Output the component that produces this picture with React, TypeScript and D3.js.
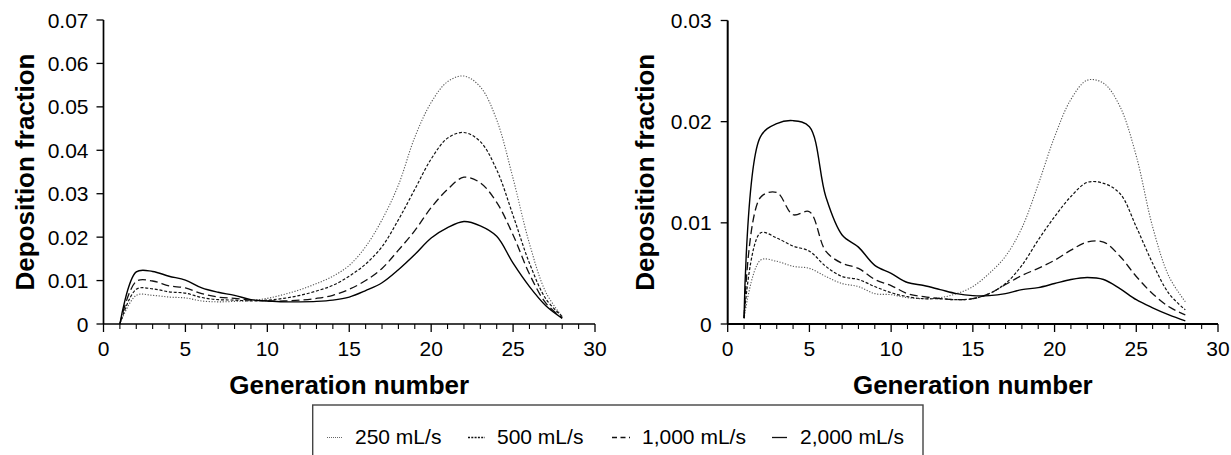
import React from "react";
import * as d3 from "d3";

const generations = [1,2,3,4,5,6,7,8,9,10,11,12,13,14,15,16,17,18,19,20,21,22,23,24,25,26,27,28];

// Left panel (deposition fraction)
const left250 = [0,0.0066,0.0066,0.0062,0.0060,0.0053,0.0051,0.0052,0.0054,0.0059,0.0068,0.0079,0.0093,0.0110,0.0135,0.0178,0.0240,0.0320,0.0430,0.0510,0.0558,0.0571,0.0546,0.0470,0.0335,0.0185,0.0073,0.0017];
const left500 = [0,0.0080,0.0081,0.0074,0.0071,0.0061,0.0056,0.0055,0.0053,0.0055,0.0059,0.0066,0.0076,0.0089,0.0110,0.0138,0.0178,0.0240,0.0310,0.0380,0.0428,0.0441,0.0420,0.0355,0.0250,0.0140,0.0058,0.0017];
const left1000 = [0,0.0098,0.0099,0.0088,0.0083,0.0070,0.0062,0.0059,0.0055,0.0053,0.0053,0.0055,0.0059,0.0066,0.0080,0.0100,0.0128,0.0170,0.0215,0.0268,0.0310,0.0338,0.0325,0.0280,0.0205,0.0115,0.0048,0.0014];
const left2000 = [0,0.0120,0.0121,0.0110,0.0101,0.0083,0.0073,0.0066,0.0056,0.0053,0.0051,0.0051,0.0052,0.0055,0.0062,0.0077,0.0095,0.0125,0.0160,0.0198,0.0222,0.0236,0.0226,0.0202,0.0140,0.0086,0.0042,0.0013];

// Right panel
const right250 = [0.0005,0.0063,0.0062,0.0057,0.0055,0.0047,0.0040,0.0037,0.0030,0.0029,0.0026,0.0025,0.0026,0.0030,0.0037,0.0050,0.0067,0.0095,0.0138,0.0185,0.0222,0.0241,0.0238,0.0215,0.0166,0.0096,0.0047,0.0022];
const right500 = [0.0006,0.0090,0.0085,0.0077,0.0072,0.0057,0.0047,0.0044,0.0037,0.0031,0.0027,0.0025,0.0025,0.0024,0.0025,0.0030,0.0040,0.0058,0.0083,0.0106,0.0126,0.0140,0.0139,0.0129,0.0096,0.0060,0.0030,0.0014];
const right1000 = [0.0006,0.0125,0.0130,0.0108,0.0111,0.0072,0.0060,0.0055,0.0044,0.0038,0.0030,0.0027,0.0025,0.0024,0.0025,0.0030,0.0039,0.0048,0.0055,0.0063,0.0073,0.0081,0.0081,0.0067,0.0047,0.0030,0.0017,0.0009];
const right2000 = [0.0006,0.0185,0.0198,0.0201,0.0195,0.0126,0.0088,0.0076,0.0058,0.0050,0.0041,0.0038,0.0034,0.0030,0.0028,0.0028,0.0030,0.0034,0.0036,0.0040,0.0044,0.0046,0.0044,0.0035,0.0024,0.0016,0.0009,0.0003];

const seriesLabels = ["250 mL/s", "500 mL/s", "1,000 mL/s", "2,000 mL/s"];
const leftTicksY = [0, 0.01, 0.02, 0.03, 0.04, 0.05, 0.06, 0.07];
const rightTicksY = [0, 0.01, 0.02, 0.03];
const xMajorTicks = [0, 5, 10, 15, 20, 25, 30];
const xMinorTicks = [1,2,3,4,6,7,8,9,11,12,13,14,16,17,18,19,21,22,23,24,26,27,28,29];

const FONT = "'Liberation Sans', Arial, Helvetica, sans-serif";
const styles = [
  { dash: "1.2,1.6", width: 1.1, color: "#555" },
  { dash: "3,1.8", width: 1.2, color: "#111" },
  { dash: "8,4", width: 1.3, color: "#111" },
  { dash: "none", width: 1.4, color: "#000" },
];

type PanelProps = {
  xLeft: number; xRight: number; yTop: number; yBottom: number;
  yMax: number; yTicks: number[]; data: number[][]; axisW: number;
  titleX: number; labelOffset: number;
};

function Panel(p: PanelProps) {
  const x = d3.scaleLinear().domain([0, 30]).range([p.xLeft, p.xRight]);
  const y = d3.scaleLinear().domain([0, p.yMax]).range([p.yBottom, p.yTop]);
  const line = d3.line<number>()
    .x((_, i) => x(generations[i]))
    .y((d) => y(d))
    .curve(d3.curveCatmullRom.alpha(0.5));
  const fmt = (d: number) => (d === 0 ? "0" : d3.format(".2f")(d));
  const cx = (p.xLeft + p.xRight) / 2;
  const cy = (p.yTop + p.yBottom) / 2;
  return (
    <g>
      {p.data.map((s, i) => (
        <path key={i} d={line(s) || ""} fill="none" stroke={styles[i].color}
          strokeWidth={styles[i].width} strokeDasharray={styles[i].dash} />
      ))}
      <line x1={p.xLeft} x2={p.xLeft} y1={p.yTop} y2={p.yBottom} stroke="#000" strokeWidth={p.axisW} />
      <line x1={p.xLeft} x2={p.xRight} y1={p.yBottom} y2={p.yBottom} stroke="#000" strokeWidth={p.axisW} />
      {p.yTicks.map((t) => (
        <g key={"y" + t}>
          <line x1={p.xLeft - 7} x2={p.xLeft} y1={y(t)} y2={y(t)} stroke="#000" strokeWidth={1.3} />
          <text x={p.xLeft - p.labelOffset} y={y(t) + 7.5} textAnchor="end" fontSize={21} fontFamily={FONT}>{fmt(t)}</text>
        </g>
      ))}
      {xMajorTicks.map((t) => (
        <g key={"x" + t}>
          <line x1={x(t)} x2={x(t)} y1={p.yBottom} y2={p.yBottom + 8} stroke="#000" strokeWidth={1.3} />
          <text x={x(t)} y={356} textAnchor="middle" fontSize={21} fontFamily={FONT}>{t}</text>
        </g>
      ))}
      {xMinorTicks.map((t) => (
        <line key={"m" + t} x1={x(t)} x2={x(t)} y1={p.yBottom} y2={p.yBottom + 5} stroke="#000" strokeWidth={1.1} />
      ))}
      <text x={cx} y={393.5} textAnchor="middle" fontSize={26} fontWeight="bold" fontFamily={FONT}>Generation number</text>
      <text transform={`translate(${p.titleX},${cy}) rotate(-90)`} textAnchor="middle" fontSize={26} fontWeight="bold" fontFamily={FONT}>Deposition fraction</text>
    </g>
  );
}

export default function App() {
  const legendSamples = [
    { x1: 327, x2: 343, tx: 355 },
    { x1: 468, x2: 485, tx: 497 },
    { x1: 612, x2: 630, tx: 642 },
    { x1: 772, x2: 787, tx: 800 },
  ];
  const legendDash = ["1,1", "2,1.3", "5,3.5", "none"];
  return (
    <svg width={1231} height={455} style={{ position: "absolute", left: 0, top: 0, background: "#fff" }}>
      <rect x={0} y={0} width={1231} height={455} fill="#fff" />
      <Panel xLeft={103.5} xRight={595} yTop={20} yBottom={324} yMax={0.07} yTicks={leftTicksY}
        data={[left250, left500, left1000, left2000]} axisW={1.7} titleX={33.5} labelOffset={15} />
      <Panel xLeft={727.7} xRight={1218} yTop={20.5} yBottom={324} yMax={0.03} yTicks={rightTicksY}
        data={[right250, right500, right1000, right2000]} axisW={2} titleX={653.5} labelOffset={16} />
      <rect x={312.7} y={405} width={610.3} height={70} fill="none" stroke="#444" strokeWidth={1.4} />
      {seriesLabels.map((lab, i) => (
        <g key={lab}>
          <line x1={legendSamples[i].x1} x2={legendSamples[i].x2} y1={437.5} y2={437.5}
            stroke={i === 0 ? "#666" : "#111"} strokeWidth={i === 0 ? 1 : 1.3} strokeDasharray={legendDash[i]} />
          <text x={legendSamples[i].tx} y={443.5} fontSize={21} fontFamily={FONT}>{lab}</text>
        </g>
      ))}
    </svg>
  );
}
